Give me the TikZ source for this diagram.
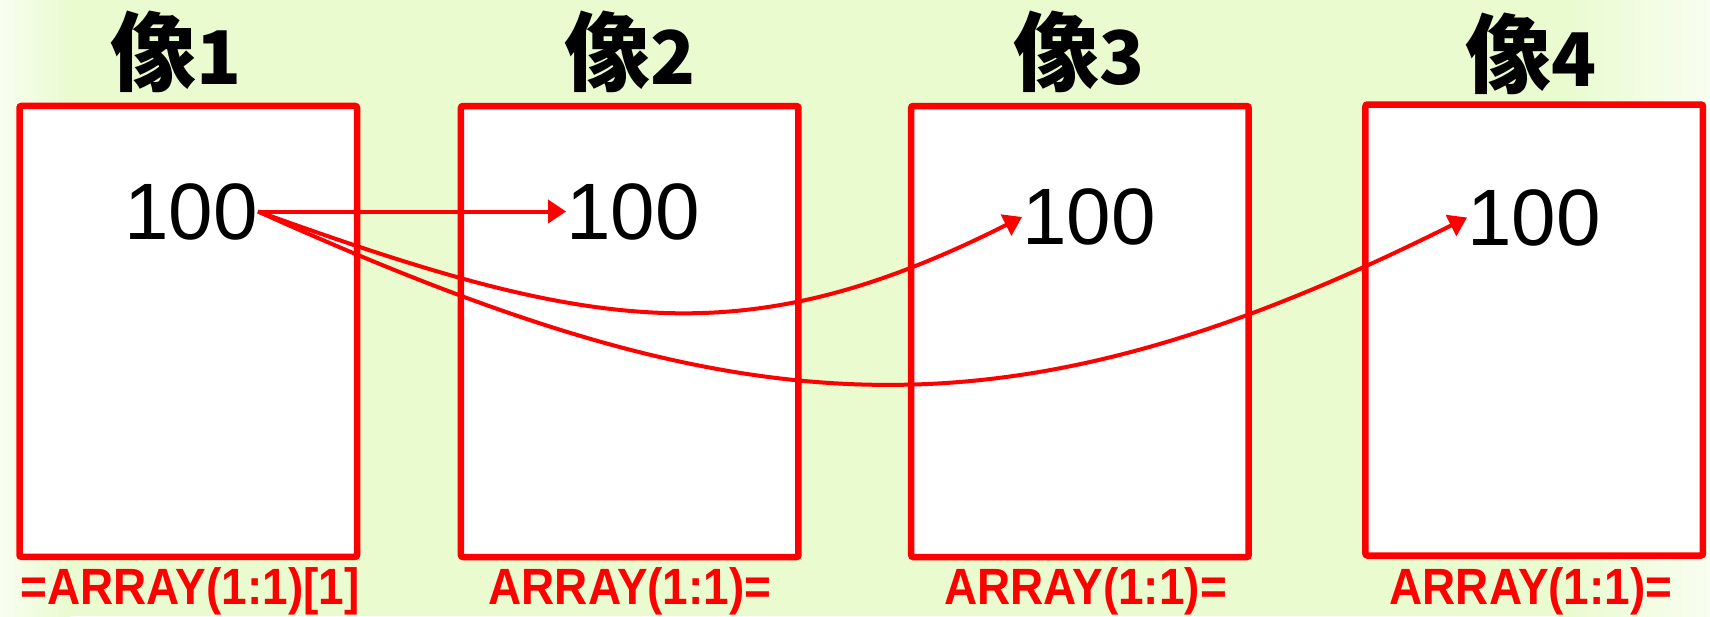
\documentclass[tikz,border=0pt]{standalone}
\usepackage{xcolor}
\usepackage{fontspec}
\setmainfont{Liberation Sans}
\newfontfamily\valfont{Liberation Sans}
\newfontfamily\cjk{Noto Sans CJK JP}
\newfontfamily\lblfont[FakeStretch=0.9]{Liberation Sans Bold}
\usepackage{tikz}
\usetikzlibrary{positioning, arrows.meta, calc}
\definecolor{bggreen}{RGB}{233,251,207}
\definecolor{boxred}{RGB}{255,0,0}

\begin{document}
\begin{tikzpicture}[x=1pt, y=-1pt,
    imgbox/.style={rectangle, rounded corners=2pt, draw=boxred, line width=6.5pt, fill=white, minimum width=337.5pt, minimum height=451pt, inner sep=0pt},
    val/.style={inner sep=0pt, font=\valfont\fontsize{80}{96}\selectfont},
    ttl/.style={inner sep=0pt, anchor=base, font=\cjk\bfseries\fontsize{86}{100}\selectfont},
    lbl/.style={inner sep=0pt, anchor=base, text=boxred, font=\lblfont\fontsize{51}{58}\selectfont},
    arr/.style={-{Triangle[length=18pt, width=23pt]}, boxred, line width=4pt}]
        \useasboundingbox (0,0) rectangle (1710,616);
        % Background
        \fill[bggreen] (0,0) rectangle (1710,616);
        \shade[left color=bggreen!30!white, right color=bggreen] (0,0) rectangle (70,616);
        \shade[left color=bggreen, right color=bggreen!30!white] (1560,0) rectangle (1710,616);
        
        % Image boxes
        \node[imgbox] (box1) at (188.25,331.4) {};
        \node[imgbox] (box2) at (629.7,331.5) {};
        \node[imgbox] (box3) at (1079.9,331.5) {};
        \node[imgbox] (box4) at (1534.2,330) {};
        
        % Values
        \node[val] (val1) at (191,211.5) {100};
        \node[val] (val2) at (633,211.5) {100};
        \node[val] (val3) at (1089,217) {100};
        \node[val] (val4) at (1534,217.5) {100};
        
        % Titles
        \node[ttl] (title1) at (176.5,84) {像{\fontsize{74}{80}\selectfont 1}};
        \node[ttl] (title2) at (630,84) {像{\fontsize{74}{80}\selectfont 2}};
        \node[ttl] (title3) at (1079.5,84) {像{\fontsize{74}{80}\selectfont 3}};
        \node[ttl] (title4) at (1531.5,86) {像{\fontsize{74}{80}\selectfont 4}};
        
        % Labels
        \node[lbl] (lbl1) at (190,604) {=ARRAY(1:1)[1]};
        \node[lbl] (lbl2) at (630,604) {ARRAY(1:1)=};
        \node[lbl] (lbl3) at (1085.5,604) {ARRAY(1:1)=};
        \node[lbl] (lbl4) at (1531,604) {ARRAY(1:1)=};
        
        % Arrows
        \draw[arr] (val1.east) -- (val2.west);
        \draw[arr] (val1.east) .. controls +(330,119) and +(-280,141) .. (val3.west);
        \draw[arr] (val1.east) .. controls +(480,216) and +(-470,235) .. (val4.west);
    \end{tikzpicture}
\end{document}
